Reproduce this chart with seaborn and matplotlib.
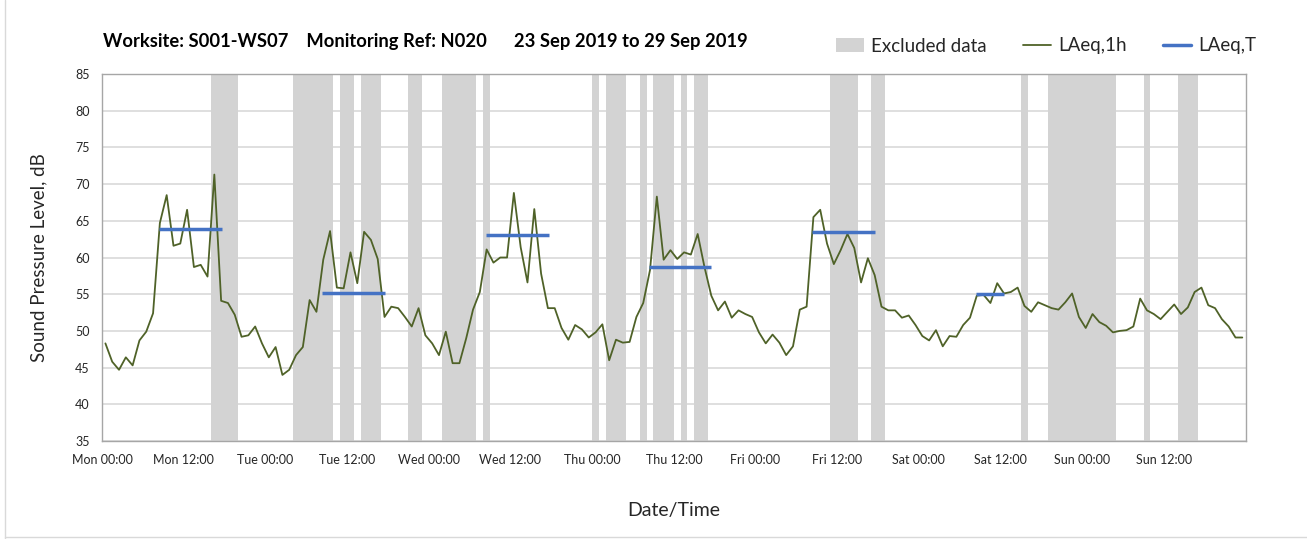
import numpy as np
import pandas as pd
import matplotlib
matplotlib.use("Agg")
import matplotlib.pyplot as plt
from matplotlib.patches import Patch
from matplotlib.lines import Line2D
import seaborn as sns

# ---- data ----
laeq_1h = [
    48.3, 45.8, 44.7, 46.4, 45.3, 48.7, 49.9, 52.4, 64.7, 68.5, 61.6, 61.9,
    66.5, 58.7, 59.0, 57.4, 71.3, 54.1, 53.8, 52.2, 49.2, 49.4, 50.6, 48.3,
    46.4, 47.8, 44.0, 44.7, 46.7, 47.8, 54.2, 52.6, 59.7, 63.6, 55.9, 55.8,
    60.7, 56.5, 63.5, 62.4, 59.8, 51.9, 53.3, 53.1, 51.9, 50.6, 53.1, 49.4,
    48.3, 46.7, 49.9, 45.6, 45.6, 49.0, 52.9, 55.3, 61.1, 59.3, 60.0, 60.0,
    68.8, 61.4, 56.6, 66.6, 57.8, 53.1, 53.1, 50.4, 48.8, 50.8, 50.2, 49.1,
    49.8, 50.9, 46.0, 48.8, 48.4, 48.5, 51.9, 53.8, 58.3, 68.3, 59.7, 61.0,
    59.8, 60.7, 60.4, 63.2, 58.7, 54.8, 52.8, 54.0, 51.8, 52.8, 52.3, 51.9,
    49.8, 48.3, 49.5, 48.4, 46.7, 47.9, 52.9, 53.3, 65.5, 66.5, 61.9, 59.1,
    61.0, 63.2, 61.3, 56.6, 59.9, 57.6, 53.3, 52.8, 52.8, 51.8, 52.1, 50.8,
    49.3, 48.7, 50.1, 47.9, 49.3, 49.2, 50.8, 51.8, 54.8, 54.9, 53.8, 56.5,
    55.1, 55.3, 55.9, 53.4, 52.6, 53.9, 53.5, 53.1, 52.9, 53.9, 55.1, 51.9,
    50.4, 52.3, 51.2, 50.7, 49.8, 50.0, 50.1, 50.6, 54.4, 52.8, 52.3, 51.6,
    52.6, 53.6, 52.3, 53.2, 55.3, 55.9, 53.5, 53.1, 51.6, 50.6, 49.1, 49.1,
]
hours = np.arange(len(laeq_1h)) + 0.5

laeq_t_value = [63.9, 55.2, 63.0, 58.7, 63.5, 55.0]
laeq_t_start = [8.35, 32.35, 56.35, 80.4, 104.35, 128.4]
laeq_t_end = [17.6, 41.6, 65.6, 89.5, 113.5, 132.45]

excl_start = [16, 28, 35, 38, 45, 50, 56, 72, 74, 79, 81, 85, 87, 107, 113, 135, 139, 153, 158]
excl_end = [20, 34, 37, 41, 47, 55, 57, 73, 77, 80, 84, 86, 89, 111, 115, 136, 149, 154, 161]

tick_hours = list(range(0, 169, 12))
tick_labels = ["Mon 00:00", "Mon 12:00", "Tue 00:00", "Tue 12:00", "Wed 00:00",
               "Wed 12:00", "Thu 00:00", "Thu 12:00", "Fri 00:00", "Fri 12:00",
               "Sat 00:00", "Sat 12:00", "Sun 00:00", "Sun 12:00", ""]

title = "Worksite: S001-WS07    Monitoring Ref: N020      23 Sep 2019 to 29 Sep 2019"

# ---- styling ----
sns.set_theme(style="white")
plt.rcParams['font.family'] = ['Lato', 'DejaVu Sans']

green = "#4F6228"
blue = "#4472C4"
grey = "#D3D3D3"
grid = "#D9D9D9"
txt = "#262626"

fig = plt.figure(figsize=(13.07, 5.39), dpi=100)
W, H = 1307, 539
ax = fig.add_axes([102 / W, 1 - 441 / H, (1245.7 - 102) / W, (441 - 74) / H])

for s, e in zip(excl_start, excl_end):
    ax.axvspan(s, e, color=grey, lw=0, zorder=1)

df = pd.DataFrame({"hour": hours, "LAeq": laeq_1h})
sns.lineplot(data=df, x="hour", y="LAeq", ax=ax, color=green, lw=1.3, zorder=3)

for v, s, e in zip(laeq_t_value, laeq_t_start, laeq_t_end):
    ax.plot([s, e], [v, v], color=blue, lw=2.5, solid_capstyle="butt", zorder=4)

ax.set_xlim(0, 168)
ax.set_ylim(35, 85)
ax.set_yticks(range(35, 86, 5))
ax.set_xticks(tick_hours)
ax.set_xticklabels(tick_labels)
ax.set_xticks(range(0, 169, 24), minor=True)
ax.yaxis.grid(True, color=grid, lw=1.2, zorder=0)
ax.xaxis.grid(True, which="minor", color=grid, lw=1.2, zorder=0)
ax.xaxis.grid(False, which="major")
ax.set_axisbelow(True)
for sp in ax.spines.values():
    sp.set_color("#A6A6A6")
    sp.set_linewidth(1.0)
ax.tick_params(axis="both", which="major", direction="out", length=4, width=1,
               color="#A6A6A6", labelsize=9, labelcolor=txt, pad=5)
ax.tick_params(axis="x", which="minor", length=0)
ax.set_xlabel("Date/Time", fontsize=14, color=txt, labelpad=26)
ax.set_ylabel("Sound Pressure Level, dB", fontsize=13.5, color=txt, labelpad=20)

fig.text(103 / W, 1 - 42 / H, title, fontsize=13.25, fontweight="bold",
         color="black", ha="left", va="center")

handles = [Patch(facecolor=grey, edgecolor="none"),
           Line2D([], [], color=green, lw=1.3),
           Line2D([], [], color=blue, lw=2.5)]
fig.legend(handles, ["Excluded data", "LAeq,1h", "LAeq,T"], ncol=3,
           loc="center", bbox_to_anchor=(1046 / W, 1 - 46 / H), frameon=False,
           fontsize=13.5, handlelength=1.5, handleheight=0.7, columnspacing=1.9,
           handletextpad=0.4, labelcolor=txt)

# figure border (left and bottom visible in the reference)
fig.add_artist(Line2D([5 / W, 5 / W], [0, 1], color="#D9D9D9", lw=1, transform=fig.transFigure))
fig.add_artist(Line2D([5 / W, 1], [1 - 537 / H, 1 - 537 / H], color="#D9D9D9", lw=1, transform=fig.transFigure))

fig.savefig("out.png", dpi=100, facecolor="white")
